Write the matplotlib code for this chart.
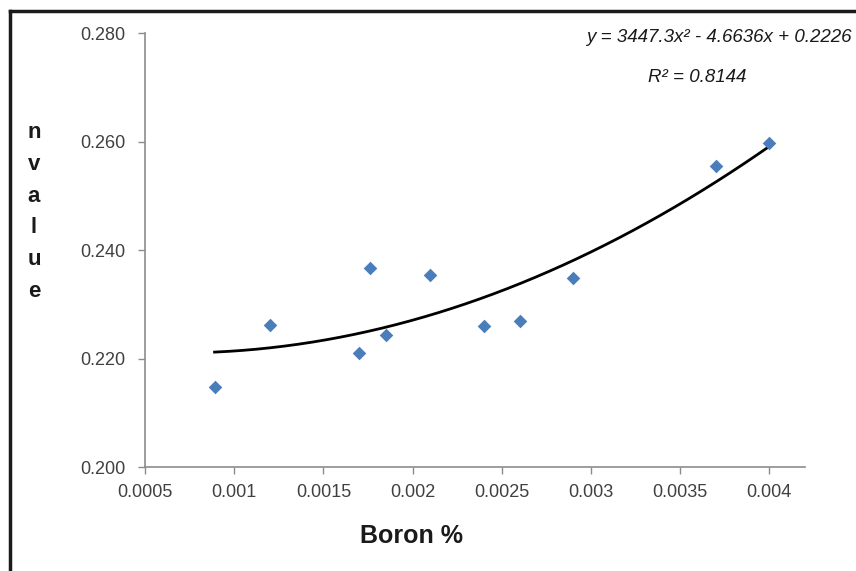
import numpy as np
import matplotlib
matplotlib.use("Agg")
import matplotlib.pyplot as plt
from matplotlib.lines import Line2D

plt.rcParams['font.family'] = ['Liberation Sans', 'DejaVu Sans']

boron = [0.00089, 0.0012, 0.0017, 0.00176, 0.00185, 0.0021, 0.0024, 0.0026, 0.0029, 0.0037, 0.0040]
nvalue = [0.2147, 0.2261, 0.2211, 0.2367, 0.2243, 0.2354, 0.2260, 0.2269, 0.2348, 0.2555, 0.2597]

# trendline coefficients (as printed on the chart)
coef = [3447.3, -4.6636, 0.2226]
eq_text = "y = 3447.3x² - 4.6636x + 0.2226"
r2_text = "R² = 0.8144"

xticks = [0.0005, 0.001, 0.0015, 0.002, 0.0025, 0.003, 0.0035, 0.004]
xticklabels = ["0.0005", "0.001", "0.0015", "0.002", "0.0025", "0.003", "0.0035", "0.004"]
yticks = [0.200, 0.220, 0.240, 0.260, 0.280]

fig = plt.figure(figsize=(8.56, 5.71), dpi=100)
ax = fig.add_axes([145/856, 1-467/571, (805-145)/856, (467-33)/571])

ax.scatter(boron, nvalue, marker='D', s=48, color='#4A7EBB', zorder=3, linewidths=0)
xs = np.linspace(min(boron), max(boron), 200)
ax.plot(xs, np.polyval(coef, xs), color='black', lw=2.0, zorder=2)

ax.set_xlim(0.0005, 0.0042)
ax.set_ylim(0.200, 0.280)
ax.set_xticks(xticks)
ax.set_xticklabels(xticklabels)
ax.set_yticks(yticks)
ax.set_yticklabels(["%.3f" % v for v in yticks])
for s in ['top', 'right']:
    ax.spines[s].set_visible(False)
for s in ['left', 'bottom']:
    ax.spines[s].set_color('#8c8c8c')
    ax.spines[s].set_linewidth(1.2)
ax.tick_params(colors='#8c8c8c', labelcolor='#404040', labelsize=13, length=5, width=1)
ax.tick_params(axis='x', pad=7)
ax.tick_params(axis='y', pad=9)

fig.text(412/856, 1-536/571, "Boron %", fontsize=18, fontweight='bold',
         ha='center', va='center', color='#1a1a1a')
fig.text(34/856, 1-212/571, "n\nv\na\nl\nu\ne", fontsize=16, fontweight='bold',
         ha='center', va='center', linespacing=1.68, color='#1a1a1a')

fig.text(586/856, 1-38/571, eq_text, fontsize=13.5, style='italic', ha='left', va='center', color='#1a1a1a')
fig.text(648/856, 1-77/571, r2_text, fontsize=13.5, style='italic', ha='left', va='center', color='#1a1a1a')

# outer chart border (left and top visible)
fig.add_artist(Line2D([10/856, 10/856], [0, 1-11/571], transform=fig.transFigure, color='#1a1a1a', lw=2.5))
fig.add_artist(Line2D([10/856, 1], [1-11/571, 1-11/571], transform=fig.transFigure, color='#1a1a1a', lw=2.5))

fig.savefig("out.png", dpi=100)
